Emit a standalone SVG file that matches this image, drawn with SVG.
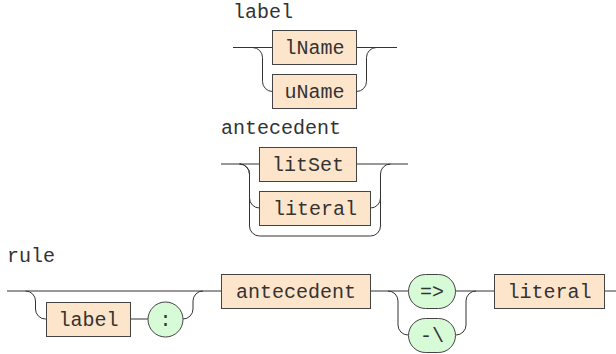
<svg xmlns="http://www.w3.org/2000/svg" width="616" height="354" viewBox="0 0 616 354">
  <style>
    .bg { fill: #ffffff; }
    .title { font-family: "Liberation Mono", "Courier New", monospace; font-size: 20px; fill: #333333; }
    .lbl { font-family: "Liberation Mono", "Courier New", monospace; font-size: 20px; fill: #333333; text-anchor: middle; }
    .nt { fill: #fde5cb; stroke: #444444; stroke-width: 1; }
    .t { fill: #d6fbd6; stroke: #444444; stroke-width: 1; }
    .wire { fill: none; stroke: #333333; stroke-width: 1; }
  </style>
  <rect class="bg" x="0" y="0" width="616" height="354"/>

  <!-- label ::= lName | uName -->
  <g id="diagram-label">
    <text class="title" x="233" y="18">label</text>
    <g id="wires-label">
      <path class="wire" d="M233 47.5 H272.5 M356.5 47.5 H397"/>
      <path class="wire" d="M252.5 47.5 a10 10 0 0 1 10 10 V81.5 a10 10 0 0 0 10 10"/>
      <path class="wire" d="M356.5 91.5 a10 10 0 0 0 10 -10 V57.5 a10 10 0 0 1 10 -10"/>
    </g>
    <g id="label-lName">
      <rect class="nt" x="272.5" y="30.5" width="84" height="34"/>
      <text class="lbl" x="314.5" y="53.5">lName</text>
    </g>
    <g id="label-uName">
      <rect class="nt" x="272.5" y="74.5" width="84" height="34"/>
      <text class="lbl" x="314.5" y="97.5">uName</text>
    </g>
  </g>

  <!-- antecedent ::= ( litSet | literal )? -->
  <g id="diagram-antecedent">
    <text class="title" x="221" y="134">antecedent</text>
    <g id="wires-antecedent">
      <path class="wire" d="M221 164 H259.5 M356.5 164 H408"/>
      <path class="wire" d="M239.5 164 a10 10 0 0 1 10 10 V198 a10 10 0 0 0 10 10"/>
      <path class="wire" d="M239.5 164 a10 10 0 0 1 10 10 V226 a10 10 0 0 0 10 10 H370.5 a10 10 0 0 0 10 -10 V174 a10 10 0 0 1 10 -10"/>
      <path class="wire" d="M370.5 208 a10 10 0 0 0 10 -10 V174"/>
    </g>
    <g id="antecedent-litSet">
      <rect class="nt" x="259.5" y="147.5" width="97" height="34"/>
      <text class="lbl" x="308" y="170.5">litSet</text>
    </g>
    <g id="antecedent-literal">
      <rect class="nt" x="259.5" y="191.5" width="111" height="34"/>
      <text class="lbl" x="315" y="214.5">literal</text>
    </g>
  </g>

  <!-- rule ::= ( label ':' )? antecedent ( '=>' | '-\' ) literal -->
  <g id="diagram-rule">
    <text class="title" x="7" y="262">rule</text>
    <g id="wires-rule">
      <path class="wire" d="M7 291 H221.5 M370.5 291 H408.5 M455.5 291 H494.5 M604.5 291 H616"/>
      <path class="wire" d="M25.5 291 a10 10 0 0 1 10 10 V309 a10 10 0 0 0 10 10 H46.5 M130.5 319 H148"/>
      <path class="wire" d="M183 319 a10 10 0 0 0 10 -10 V301 a10 10 0 0 1 10 -10"/>
      <path class="wire" d="M388 291 a10 10 0 0 1 10 10 V325 a10 10 0 0 0 10 10 H408.5"/>
      <path class="wire" d="M455.5 335 H456 a10 10 0 0 0 10 -10 V301 a10 10 0 0 1 10 -10"/>
    </g>
    <g id="rule-label">
      <rect class="nt" x="46.5" y="302.5" width="84" height="34"/>
      <text class="lbl" x="88.5" y="325.5">label</text>
    </g>
    <g id="rule-colon">
      <circle class="t" cx="165.5" cy="319.5" r="17.5"/>
      <text class="lbl" x="165.5" y="325.5">:</text>
    </g>
    <g id="rule-antecedent">
      <rect class="nt" x="221.5" y="274.5" width="149" height="34"/>
      <text class="lbl" x="296" y="297.5">antecedent</text>
    </g>
    <g id="rule-implies">
      <rect class="t" x="408.5" y="274.5" width="47" height="34" rx="17" ry="17"/>
      <text class="lbl" x="432" y="297.5">=&gt;</text>
    </g>
    <g id="rule-defeats">
      <rect class="t" x="408.5" y="318.5" width="47" height="34" rx="17" ry="17"/>
      <text class="lbl" x="432" y="341.5">-\</text>
    </g>
    <g id="rule-literal">
      <rect class="nt" x="494.5" y="274.5" width="110" height="34"/>
      <text class="lbl" x="549.5" y="297.5">literal</text>
    </g>
  </g>
</svg>
